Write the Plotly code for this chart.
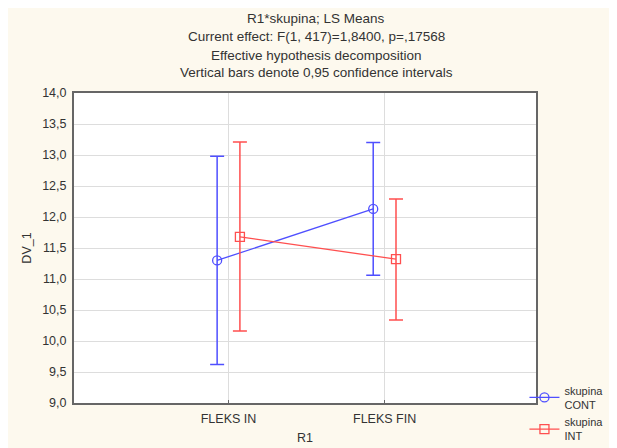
import plotly.graph_objects as go

categories = ["FLEKS IN", "FLEKS FIN"]
cont_mean = [11.30, 12.13]
cont_upper = [12.98, 13.20]
cont_lower = [9.62, 11.06]
int_mean = [11.68, 11.32]
int_upper = [13.21, 12.29]
int_lower = [10.16, 10.34]
ytick_vals = [9.0, 9.5, 10.0, 10.5, 11.0, 11.5, 12.0, 12.5, 13.0, 13.5, 14.0]
title_lines = [
    "R1*skupina; LS Means",
    "Current effect: F(1, 417)=1,8400, p=,17568",
    "Effective hypothesis decomposition",
    "Vertical bars denote 0,95 confidence intervals",
]

BLUE = "#4F4FFF"
RED = "#FF4F4F"
off = 0.073
idx = list(range(len(categories)))

fig = go.Figure()
fig.add_trace(go.Scatter(
    x=[i - off for i in idx], y=cont_mean, mode="lines+markers",
    name="skupina<br>CONT",
    line=dict(color=BLUE, width=1.3),
    marker=dict(symbol="circle-open", size=9, color=BLUE, line=dict(width=1.3)),
    error_y=dict(type="data", symmetric=False,
                 array=[u - m for u, m in zip(cont_upper, cont_mean)],
                 arrayminus=[m - l for m, l in zip(cont_mean, cont_lower)],
                 color=BLUE, thickness=1.5, width=7),
))
fig.add_trace(go.Scatter(
    x=[i + off for i in idx], y=int_mean, mode="lines+markers",
    name="skupina<br>INT",
    line=dict(color=RED, width=1.3),
    marker=dict(symbol="square-open", size=9, color=RED, line=dict(width=1.3)),
    error_y=dict(type="data", symmetric=False,
                 array=[u - m for u, m in zip(int_upper, int_mean)],
                 arrayminus=[m - l for m, l in zip(int_mean, int_lower)],
                 color=RED, thickness=1.5, width=7),
))

annotations = []
for ypx, txt in zip([18, 37, 55, 72], title_lines):
    annotations.append(dict(text=txt, x=(312 - 74) / 454, xref="paper", y=(403 - ypx) / 310, yref="paper",
                            xanchor="center", yanchor="middle", showarrow=False,
                            font=dict(family="Liberation Sans, Arial", size=13.5, color="#333")))

fig.update_layout(
    width=609, height=440,
    margin=dict(l=66, r=81, t=85, b=45, autoexpand=False),
    paper_bgcolor="#FDF9EE",
    plot_bgcolor="white",
    separators=", ",
    font=dict(family="Liberation Sans, Arial", size=12, color="#333"),
    showlegend=True,
    legend=dict(x=0.975, xanchor="left", y=0.085, yanchor="top",
                bgcolor="rgba(0,0,0,0)", font=dict(size=11, color="#333"),
                tracegroupgap=0, itemwidth=30),
    annotations=annotations,
    xaxis=dict(range=[-0.99, 1.97], tickvals=idx, ticktext=categories,
               showgrid=True, gridcolor="#DDDDDD", gridwidth=1,
               showline=True, linecolor="#666", linewidth=2, mirror=True,
               ticks="inside", ticklen=3, tickcolor="#666", zeroline=False,
               ticklabelstandoff=3,
               title=dict(text="R1", standoff=8, font=dict(size=12.5)),
               tickfont=dict(size=12.5, color="#333")),
    yaxis=dict(range=[9, 14], tickvals=ytick_vals, tickformat=".1f",
               showgrid=True, gridcolor="#DDDDDD", gridwidth=1,
               showline=True, linecolor="#666", linewidth=2, mirror=True,
               ticks="", zeroline=False, ticklabelstandoff=3,
               title=dict(text="DV_1", standoff=8, font=dict(size=12.5)),
               tickfont=dict(size=12.5, color="#333")),
)

fig.write_html("out.html")
